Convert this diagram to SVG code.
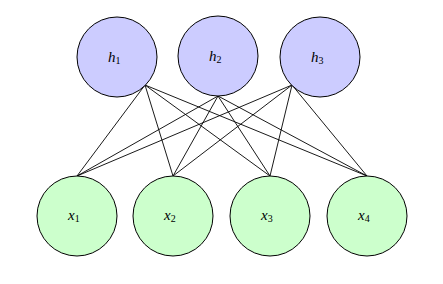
<svg xmlns="http://www.w3.org/2000/svg" width="443" height="284" viewBox="0 0 443 284">
<style>
.h{fill:#ccccff;stroke:#000;stroke-width:1}
.x{fill:#ccffcc;stroke:#000;stroke-width:1}
.e{stroke:#000;stroke-width:0.9;fill:none}
.t{font-family:"Liberation Serif",serif;font-style:italic;font-size:15px;fill:#000}
.s{font-family:"Liberation Serif",serif;font-style:normal;font-size:10px;fill:#000}
</style>
<rect width="443" height="284" fill="#fff"/>
<g id="connectors">
<line class="e" x1="145" y1="85" x2="77" y2="176"/>
<line class="e" x1="145" y1="85" x2="173" y2="176"/>
<line class="e" x1="145" y1="85" x2="270" y2="176"/>
<line class="e" x1="145" y1="85" x2="367" y2="176"/>
<line class="e" x1="218" y1="96" x2="77" y2="176"/>
<line class="e" x1="218" y1="96" x2="173" y2="176"/>
<line class="e" x1="218" y1="96" x2="270" y2="176"/>
<line class="e" x1="218" y1="96" x2="367" y2="176"/>
<line class="e" x1="292" y1="85" x2="77" y2="176"/>
<line class="e" x1="292" y1="85" x2="173" y2="176"/>
<line class="e" x1="292" y1="85" x2="270" y2="176"/>
<line class="e" x1="292" y1="85" x2="367" y2="176"/>
</g>
<g id="h1"><circle class="h" cx="117" cy="57" r="40"/><text class="t" x="108" y="62">h<tspan class="s" dy="2">1</tspan></text></g>
<g id="h2"><circle class="h" cx="218" cy="56" r="40"/><text class="t" x="209" y="61">h<tspan class="s" dy="2">2</tspan></text></g>
<g id="h3"><circle class="h" cx="320" cy="57" r="40"/><text class="t" x="311" y="62">h<tspan class="s" dy="2">3</tspan></text></g>
<g id="x1"><circle class="x" cx="77" cy="216" r="40"/><text class="t" x="68" y="220">x<tspan class="s" dy="2">1</tspan></text></g>
<g id="x2"><circle class="x" cx="173" cy="216" r="40"/><text class="t" x="164" y="220">x<tspan class="s" dy="2">2</tspan></text></g>
<g id="x3"><circle class="x" cx="270" cy="216" r="40"/><text class="t" x="261" y="220">x<tspan class="s" dy="2">3</tspan></text></g>
<g id="x4"><circle class="x" cx="367" cy="216" r="40"/><text class="t" x="358" y="220">x<tspan class="s" dy="2">4</tspan></text></g>
</svg>
